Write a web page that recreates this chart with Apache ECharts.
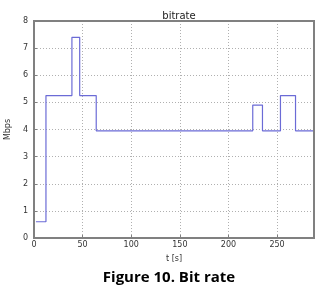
<!DOCTYPE html>
<html><head><meta charset="utf-8">
<script src="https://cdn.jsdelivr.net/npm/echarts@6/dist/echarts.min.js"></script>
<style>html,body{margin:0;padding:0;background:#fff}#c{width:329px;height:293px}</style>
</head><body><div id="c"></div>
<script>
const times = [2, 12.3, 39, 47, 64, 225, 235, 253.5, 269, 288];
const rates = [0.6, 5.25, 7.4, 5.25, 3.95, 4.9, 3.95, 5.25, 3.95, 3.95];
const xTicks = [0, 50, 100, 150, 200, 250];
const yTicks = [0, 1, 2, 3, 4, 5, 6, 7, 8];

const chart = echarts.init(document.getElementById('c'), null, {renderer: 'canvas'});
chart.setOption({
  animation: false,
  title: [{
    text: 'bitrate', left: 174, top: 6, textAlign: 'center',
    textStyle: {fontFamily: 'DejaVu Sans', fontSize: 10, fontWeight: 'normal', color: '#222'}
  }, {
    text: 'Figure 10. Bit rate', left: 164, top: 265, textAlign: 'center',
    textStyle: {fontFamily: 'Open Sans', fontSize: 15, fontWeight: 'bold', color: '#000'}
  }],
  grid: {left: 34, right: 15, top: 21, bottom: 55, containLabel: false, outerBoundsMode: 'none'},
  xAxis: {
    type: 'value', min: 0, max: 288, interval: 50,
    name: 't [s]', nameLocation: 'middle', nameGap: 17,
    nameTextStyle: {fontFamily: 'DejaVu Sans', fontSize: 8, color: '#333'},
    axisLine: {lineStyle: {color: '#808080', width: 2}},
    axisTick: {inside: true, length: 3, lineStyle: {color: '#808080'}},
    axisLabel: {fontFamily: 'DejaVu Sans', fontSize: 8, color: '#333', margin: 3, showMaxLabel: false,
      formatter: v => xTicks.includes(v) ? String(v) : ''},
    splitLine: {show: true, lineStyle: {color: '#b0b0b0', type: [1, 2], width: 1}}
  },
  yAxis: {
    type: 'value', min: 0, max: 8, interval: 1,
    name: 'Mbps', nameLocation: 'middle', nameGap: 15,
    nameTextStyle: {fontFamily: 'DejaVu Sans', fontSize: 8, color: '#333'},
    axisLine: {show: true, lineStyle: {color: '#808080', width: 2}},
    axisTick: {show: true, inside: true, length: 3, lineStyle: {color: '#808080'}},
    axisLabel: {fontFamily: 'DejaVu Sans', fontSize: 8, color: '#333', margin: 6,
      formatter: v => yTicks.includes(v) ? String(v) : ''},
    splitLine: {show: true, lineStyle: {color: '#b0b0b0', type: [1, 2], width: 1}}
  },
  series: [{
    type: 'line', step: 'end', showSymbol: false,
    data: times.map((t, i) => [t, rates[i]]),
    lineStyle: {color: '#6b6bd6', width: 1.2}
  }],
  graphic: [{
    type: 'rect', shape: {x: 34, y: 21, width: 280, height: 217},
    style: {fill: 'none', stroke: '#808080', lineWidth: 2}, silent: true, z: 100
  }]
});
</script></body></html>
